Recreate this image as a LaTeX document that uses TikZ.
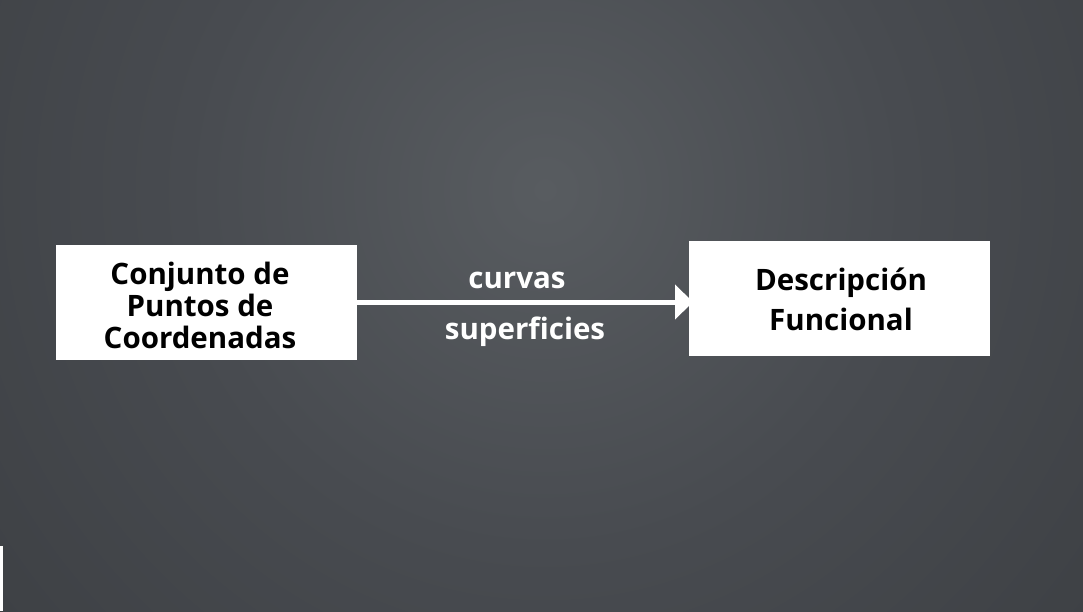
\documentclass[tikz,border=0pt]{standalone}
\usepackage{fontspec}
\setmainfont{Open Sans}[Ligatures={NoCommon}]
\usetikzlibrary{arrows.meta}
\definecolor{bg0}{RGB}{88,92,96}
\definecolor{bg1}{RGB}{72,75,80}
\definecolor{bg2}{RGB}{62,65,69}
\definecolor{bg3}{RGB}{55,58,62}
\definecolor{bg4}{RGB}{49,52,56}
\definecolor{bg5}{RGB}{42,45,48}
\pgfdeclareradialshading{bgshade}{\pgfpoint{0bp}{0bp}}{color(0bp)=(bg0); color(12.5bp)=(bg1); color(24bp)=(bg2); color(31bp)=(bg3); color(38bp)=(bg4); color(50bp)=(bg5)}
\tikzset{
  box/.style={fill=white, draw=none, minimum width=301pt, minimum height=115pt, inner sep=0pt},
  boxtext/.style={text=black, font=\bfseries\fontsize{29.5}{32}\selectfont, align=center},
  lbl/.style={text=white, font=\bfseries\fontsize{29.5}{32}\selectfont},
  conn/.style={white, line width=5pt, -{Triangle[length=18pt,width=34pt]}}
}
\begin{document}
\begin{tikzpicture}[x=1pt,y=-1pt]
\useasboundingbox (0,0) rectangle (1083,611);
\fill[bg5] (0,0) rectangle (1083,611);
\begin{scope}
\clip (0,0) rectangle (1083,611);
\shade[shading=bgshade] (545,190) circle (720);
\end{scope}
\fill[white] (0,546) rectangle (2.5,611);
\node[box] (L) at (206.5,302.5) {};
\node[boxtext] (Lt) at (200,305) {Conjunto de\\Puntos de\\Coordenadas};
\node[box] (R) at (839.5,298.5) {};
\node[boxtext] (Rt) at (841,299) {Descripción\\[8pt]Funcional};
\coordinate (tip) at (693,302);
\draw[conn] (L.east |- tip) -- (tip);
\node[lbl] (c) at (517,280) {curvas};
\node[lbl] (s) at (525,332) {superficies};
\end{tikzpicture}
\end{document}
